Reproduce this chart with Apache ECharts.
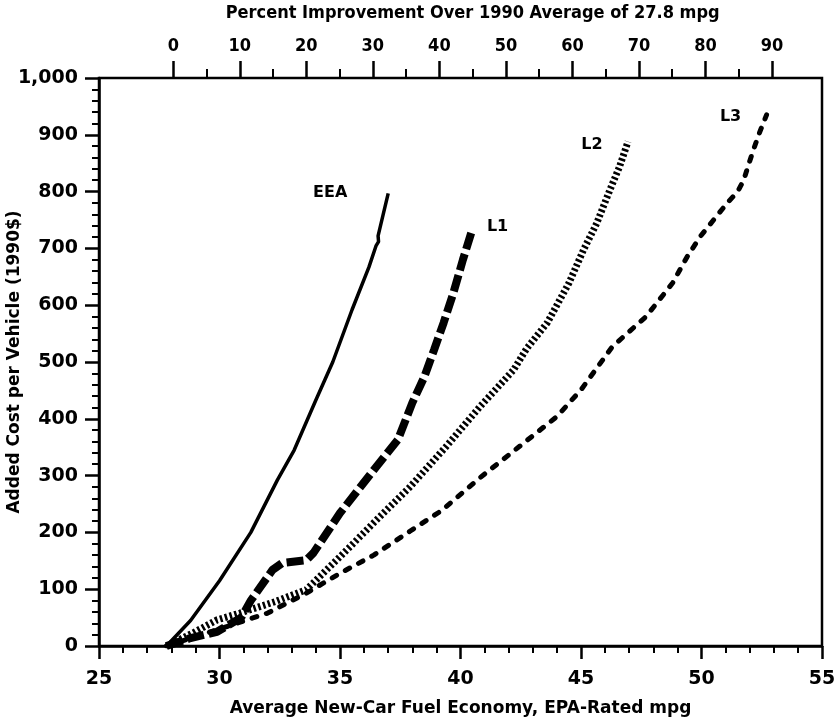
<!DOCTYPE html>
<html>
<head>
<meta charset="utf-8">
<script src="https://cdn.jsdelivr.net/npm/echarts@6/dist/echarts.min.js"></script>
<style>
html,body{margin:0;padding:0;background:#fff;}
#chart{width:837px;height:724px;}
</style>
</head>
<body>
<div id="chart"></div>
<script>
// Data: [mpg, added cost (1990$)]
const eeaData = [[27.8,0],[28.8,45],[30.0,115],[31.3,200],[32.4,292],[33.1,345],[34.0,433],[34.7,500],[35.5,592],[36.2,667],[36.5,705],[36.6,712],[36.58,722],[37.0,797]];
const l1Data = [[27.8,0],[28.8,14],[29.9,25],[30.9,50],[31.3,80],[32.2,134],[32.6,146],[33.6,151],[33.9,164],[35.0,234],[36.4,310],[37.4,363],[38.0,428],[38.5,474],[38.9,521],[39.3,569],[39.7,621],[40.1,680],[40.5,735]];
const l2Data = [[27.8,0],[28.9,23],[29.9,46],[30.85,58],[32.3,78],[33.6,99],[35.0,157],[36.4,217],[37.9,280],[39.4,351],[40.8,421],[42.2,486],[42.75,524],[43.6,569],[44.5,639],[45.1,697],[45.65,744],[46.2,803],[46.6,844],[46.95,888]];
const l3Data = [[27.8,0],[29.5,23],[32.0,58],[33.6,93],[35.0,128],[36.4,160],[37.9,202],[39.2,238],[40.8,296],[42.2,343],[44.0,404],[45.0,451],[46.3,527],[47.7,580],[48.8,639],[49.4,685],[49.95,721],[50.5,750],[51.05,779],[51.5,800],[51.75,820],[51.95,847],[52.15,873],[52.4,903],[52.7,935]];
const seriesNames = ['EEA','L1','L2','L3'];
const xTitle = 'Average New-Car Fuel Economy, EPA-Rated mpg';
const yTitle = 'Added Cost per Vehicle (1990$)';
const topTitle = 'Percent Improvement Over 1990 Average of 27.8 mpg';

const FONT = "'DejaVu Sans', 'Liberation Sans', Arial, sans-serif";
const NARROW = "'DejaVu Sans Condensed', 'Liberation Sans', sans-serif";

const chart = echarts.init(document.getElementById('chart'), null, {renderer:'canvas'});

function endLabel(data, name, dx, dy){
  const p = data[data.length-1];
  return {
    symbol:'circle', symbolSize:0, silent:true,
    data:[{coord:p, value:name}],
    label:{show:true, position:'inside', formatter:name, offset:[dx,dy], color:'#000', fontFamily:FONT, fontWeight:'bold', fontSize:16}
  };
}

const option = {
  animation:false,
  backgroundColor:'#fff',
  grid:[
    {left:99, right:15, top:78, bottom:78, show:true, borderColor:'#000', borderWidth:2.5, containLabel:false, outerBoundsMode:'none'},
    {left:173.3, width:598.7, top:78, bottom:78, show:false, containLabel:false, outerBoundsMode:'none'}
  ],
  xAxis:[
    {
      type:'value', gridIndex:0, min:25, max:55, interval:5, position:'bottom',
      axisLine:{show:true, onZero:false, lineStyle:{color:'#000', width:2.5}},
      axisTick:{show:true, length:13, lineStyle:{color:'#000', width:2.5}},
      minorTick:{show:true, splitNumber:5, length:7, lineStyle:{color:'#000', width:2}},
      splitLine:{show:false},
      axisLabel:{margin:24, color:'#000', fontFamily:FONT, fontWeight:'bold', fontSize:19},
      name:xTitle, nameLocation:'middle', nameGap:54, nameMoveOverlap:false,
      nameTextStyle:{color:'#000', fontFamily:FONT, fontWeight:'bold', fontSize:17}
    },
    {
      type:'value', gridIndex:1, min:0, max:90, interval:10, position:'top',
      axisLine:{show:false, onZero:false},
      axisTick:{show:true, length:17, lineStyle:{color:'#000', width:2.5}},
      minorTick:{show:true, splitNumber:2, length:9, lineStyle:{color:'#000', width:2}},
      splitLine:{show:false},
      axisLabel:{margin:23, color:'#000', fontFamily:NARROW, fontWeight:'bold', fontSize:18},
      name:topTitle, nameLocation:'middle', nameGap:56, nameMoveOverlap:false,
      nameTextStyle:{color:'#000', fontFamily:NARROW, fontWeight:'bold', fontSize:18}
    }
  ],
  yAxis:[
    {
      type:'value', gridIndex:0, min:0, max:1000, interval:100,
      axisLine:{show:true, onZero:false, lineStyle:{color:'#000', width:2.5}},
      axisTick:{show:true, length:14, lineStyle:{color:'#000', width:2.5}},
      minorTick:{show:true, splitNumber:5, length:7, lineStyle:{color:'#000', width:2}},
      splitLine:{show:false},
      axisLabel:{margin:21, color:'#000', fontFamily:FONT, fontWeight:'bold', fontSize:19,
        formatter:function(v){return v.toLocaleString('en-US');}},
      name:yTitle, nameLocation:'middle', nameGap:76, nameMoveOverlap:false,
      nameTextStyle:{color:'#000', fontFamily:FONT, fontWeight:'bold', fontSize:17}
    },
    {type:'value', gridIndex:1, min:0, max:1000, show:false}
  ],
  series:[
    {name:seriesNames[0], type:'line', xAxisIndex:0, yAxisIndex:0, data:eeaData, showSymbol:false, symbol:'none',
      lineStyle:{color:'#000', width:3.5, type:'solid'}, markPoint:endLabel(eeaData, seriesNames[0], -58, 0)},
    {name:seriesNames[1], type:'line', xAxisIndex:0, yAxisIndex:0, data:l1Data, showSymbol:false, symbol:'none',
      lineStyle:{color:'#000', width:8, type:[17,5], cap:'butt'}, markPoint:endLabel(l1Data, seriesNames[1], 25, -2)},
    {name:seriesNames[2], type:'line', xAxisIndex:0, yAxisIndex:0, data:l2Data, showSymbol:false, symbol:'none',
      lineStyle:{color:'#000', width:7, type:[2.5,2.5], cap:'butt'}, markPoint:endLabel(l2Data, seriesNames[2], -36, 3)},
    {name:seriesNames[3], type:'line', xAxisIndex:0, yAxisIndex:0, data:l3Data, showSymbol:false, symbol:'none',
      lineStyle:{color:'#000', width:5, type:[5,10], cap:'round'}, markPoint:endLabel(l3Data, seriesNames[3], -36, 2)}
  ]
};
chart.setOption(option);
</script>
</body>
</html>
